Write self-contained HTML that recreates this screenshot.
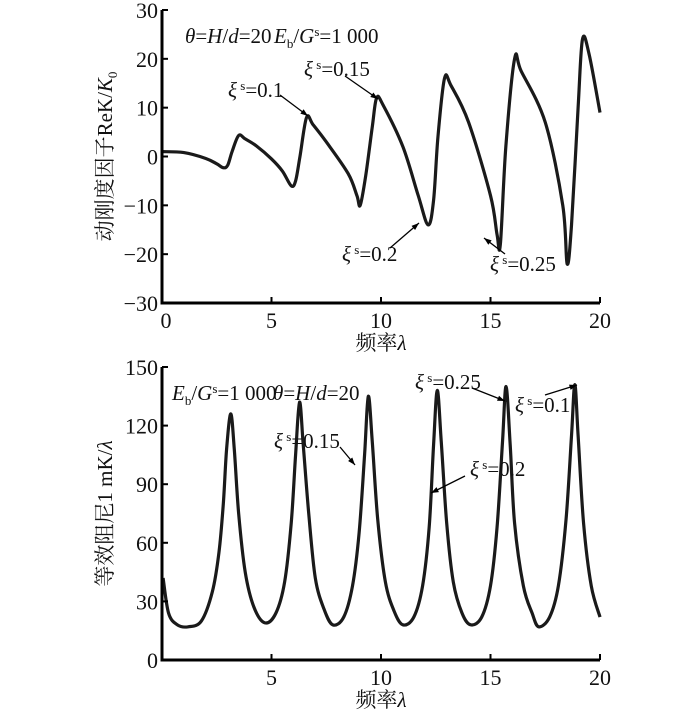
<!DOCTYPE html>
<html><head><meta charset="utf-8"><style>
body{margin:0;background:#fff;width:700px;height:710px;overflow:hidden}
svg{display:block}
text{font-family:"Liberation Serif","Noto Serif CJK SC",serif;fill:#111}
</style></head><body>
<svg id="c" width="700" height="710"></svg>
<script>
// Top chart data: dynamic stiffness factor ReK/K0 vs frequency
const topX=[0,1,2,2.5,2.8,3.0,3.2,3.5,3.8,4.3,5,5.5,5.9,6.1,6.3,6.6,6.9,7.5,8.5,8.9,9.05,9.3,9.6,9.8,10.1,11,11.7,12.15,12.4,12.6,12.9,13.2,14,15,15.3,15.45,15.7,16.1,16.4,17.5,18.3,18.5,18.7,19,19.2,19.5,20];
const topY=[1,0.8,-0.4,-1.5,-2.3,-1.8,1,4.3,3.6,2.2,-0.5,-3,-6,-5,0,8,6.5,3,-3.5,-8,-10,-4,6,12,10.5,2,-8,-14,-9,4,16,14.5,7,-8,-16,-18,2,20,17.5,7,-10,-22,-14,10,24,21,9];
// Bottom chart data: equivalent damping vs frequency
const botX=[0.05,0.3,0.7,1.2,1.8,2.3,2.6,2.8,2.95,3.14,3.3,3.5,3.8,4.2,4.7,5.2,5.6,5.9,6.1,6.28,6.45,6.7,7.0,7.4,7.8,8.3,8.7,9.0,9.25,9.42,9.6,9.85,10.2,10.6,11.0,11.5,11.9,12.2,12.4,12.57,12.75,13.0,13.3,13.7,14.1,14.6,15.0,15.3,15.55,15.71,15.9,16.1,16.5,16.9,17.2,17.7,18.1,18.45,18.7,18.85,19.0,19.25,19.6,20];
const botY=[42,24,18,17,20,35,55,80,108,126,108,75,45,27,19,24,40,70,105,132,110,75,42,26,18,22,38,65,105,135,112,72,40,25,18,22,38,68,110,138,112,70,40,24,18,22,38,68,112,140,110,70,38,24,17,22,38,72,115,141,115,70,38,22];
const xTicks=[0,5,10,15,20];
const topYTicks=[30,20,10,0,-10,-20,-30];
const botYTicks=[150,120,90,60,30,0];

const NS="http://www.w3.org/2000/svg";
const svg=document.getElementById('c');
function mk(tag,attrs,parent){const e=document.createElementNS(NS,tag);for(const k in attrs)e.setAttribute(k,attrs[k]);(parent||svg).appendChild(e);return e;}
function txt(s,x,y,size,anchor,parent){const t=mk('text',{x:x,y:y,'font-size':size,'text-anchor':anchor||'middle'},parent);t.innerHTML=s;return t;}
function spline(pts){let d='M'+pts[0][0]+','+pts[0][1];for(let i=0;i<pts.length-1;i++){const p0=pts[Math.max(0,i-1)],p1=pts[i],p2=pts[i+1],p3=pts[Math.min(pts.length-1,i+2)];const c1=[p1[0]+(p2[0]-p0[0])/6,p1[1]+(p2[1]-p0[1])/6],c2=[p2[0]-(p3[0]-p1[0])/6,p2[1]-(p3[1]-p1[1])/6];d+='C'+c1+' '+c2+' '+p2;}return d;}

function chart(cfg){
  const g=mk('g',{});
  
  
  const sx=v=>cfg.x0+(v-0)/20*(cfg.x1-cfg.x0);
  const sy=v=>cfg.yb+(v-cfg.ymin)/(cfg.ymax-cfg.ymin)*(cfg.yt-cfg.yb);
  const pts=cfg.X.map((x,i)=>[sx(x),sy(cfg.Y[i])]);
  const p=mk('path',{d:spline(pts),fill:'none',stroke:'#1a1a1a','stroke-width':3.2,'stroke-linejoin':'round'},g);
  
  
  const ax=mk('path',{d:`M${cfg.x0},${cfg.yt}V${cfg.yb}H${cfg.x1}`,fill:'none',stroke:'#000','stroke-width':3},g);
  
  
  xTicks.forEach(v=>{
    if(v>0)mk('line',{x1:sx(v),x2:sx(v),y1:cfg.yb,y2:cfg.yb-6,stroke:'#000','stroke-width':2},g);
    if(v>0||cfg.zeroX){const t=txt(v,sx(v)+(v==0?4:0),cfg.yb+25,22,'middle',g);
    
    }
  });
  cfg.yt_.forEach(v=>{
    mk('line',{x1:cfg.x0,x2:cfg.x0+6,y1:sy(v),y2:sy(v),stroke:'#000','stroke-width':2},g);
    const t=txt(String(v).replace('-','\u2212'),cfg.x0-4,sy(v)+8,22,'end',g);
    
    
  });
  const xt=txt('频率<tspan font-style="italic">λ</tspan>',(cfg.x0+cfg.x1)/2,cfg.yb+47,21,'middle',g);
  
  
  const yt=txt(cfg.ytitle,0,0,21,'middle',g);
  yt.setAttribute('transform',`translate(${cfg.ytx},${(cfg.yt+cfg.yb)/2}) rotate(-90)`);
  
  
  return {g,sx,sy};
}
const A=chart({name:'stiffness-chart',X:topX,Y:topY,x0:162,x1:600,yt:10,yb:303,ymin:-30,ymax:30,yt_:topYTicks,zeroX:true,ytx:112,ytitle:'动刚度因子ReK/<tspan font-style="italic">K</tspan><tspan font-size="13" dy="5">0</tspan>'});
const B=chart({name:'damping-chart',X:botX,Y:botY,x0:162,x1:600,yt:367,yb:660,ymin:0,ymax:150,yt_:botYTicks,zeroX:false,ytx:112,ytitle:'等效阻尼1 mK/<tspan font-style="italic">λ</tspan>'});

function ann(label,tx,ty,ax1,ay1,ax2,ay2,g){
  const t=txt(label,tx,ty,21,'start',g);
  
  
  if(ax1!=null){
    const l=mk('line',{x1:ax1,y1:ay1,x2:ax2,y2:ay2,stroke:'#000','stroke-width':1.3},g);
    
    
    const a=Math.atan2(ay2-ay1,ax2-ax1),L=8;
    mk('polygon',{points:`${ax2},${ay2} ${ax2-L*Math.cos(a-0.35)},${ay2-L*Math.sin(a-0.35)} ${ax2-L*Math.cos(a+0.35)},${ay2-L*Math.sin(a+0.35)}`,fill:'#000'},g);
  }
}
const xi='<tspan font-style="italic">ξ</tspan><tspan font-size="13" dy="-7"> s</tspan><tspan dy="7">';
ann('<tspan font-style="italic">θ</tspan>=<tspan font-style="italic">H</tspan>/<tspan font-style="italic">d</tspan>=20',185,43,null,0,0,0,A.g);
ann('<tspan font-style="italic">E</tspan><tspan font-size="13" dy="5">b</tspan><tspan dy="-5">/</tspan><tspan font-style="italic">G</tspan><tspan font-size="13" dy="-7">s</tspan><tspan dy="7">=1 000</tspan>',274,43,null,0,0,0,A.g);
ann(xi+'=0.1</tspan>',228,97,280,95,308,116,A.g);
ann(xi+'=0.15</tspan>',304,76,345,76,378,99,A.g);
ann(xi+'=0.2</tspan>',342,261,390,248,419,223,A.g);
ann(xi+'=0.25</tspan>',490,271,505,254,484,238,A.g);
ann('<tspan font-style="italic">E</tspan><tspan font-size="13" dy="5">b</tspan><tspan dy="-5">/</tspan><tspan font-style="italic">G</tspan><tspan font-size="13" dy="-7">s</tspan><tspan dy="7">=1 000</tspan>',172,400,null,0,0,0,B.g);
ann('<tspan font-style="italic">θ</tspan>=<tspan font-style="italic">H</tspan>/<tspan font-style="italic">d</tspan>=20',273,400,null,0,0,0,B.g);
ann(xi+'=0.15</tspan>',274,448,340,447,355,465,B.g);
ann(xi+'=0.2</tspan>',470,476,465,476,431,493,B.g);
ann(xi+'=0.25</tspan>',415,389,472,388,505,401,B.g);
ann(xi+'=0.1</tspan>',515,412,545,395,577,385,B.g);
</script>
</body></html>
